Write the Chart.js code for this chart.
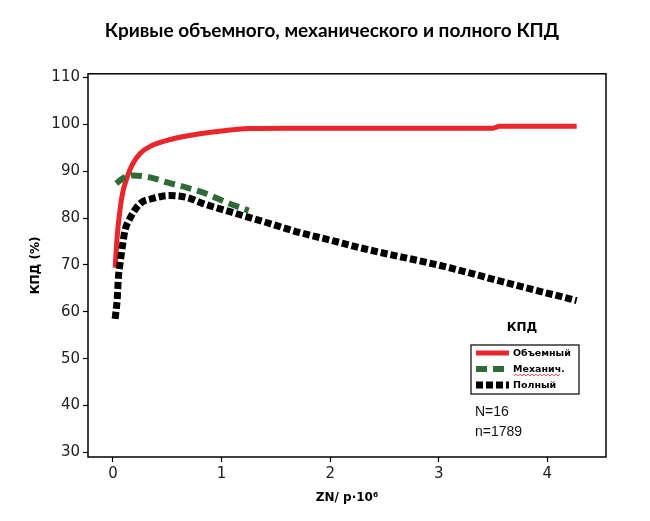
<!DOCTYPE html>
<html>
<head>
<meta charset="utf-8">
<script src="https://cdn.jsdelivr.net/npm/chart.js@4"></script>
<style>
  html, body { margin: 0; padding: 0; background: #fff; }
  #wrap { width: 650px; height: 521px; }
</style>
</head>
<body>
<div id="wrap"><canvas id="mainChart" width="650" height="521"></canvas></div>
<script>
    // значения
    const obX = [0.02, 0.04, 0.064, 0.09, 0.13, 0.18, 0.25, 0.35, 0.5, 0.65, 0.8, 1.0, 1.26, 1.6, 2.5, 3.5, 3.56, 4.27];
    const obY = [69.4, 76.5, 81.6, 85.5, 88.7, 91.5, 93.8, 95.4, 96.6, 97.4, 98.0, 98.6, 99.1, 99.2, 99.2, 99.2, 99.6, 99.6];

    const mechX = [0.03, 0.1, 0.18, 0.34, 0.5, 0.68, 0.86, 1.05, 1.25];
    const mechY = [87.4, 88.6, 89.1, 88.7, 87.6, 86.5, 85.2, 83.3, 81.6];

    const polnX = [0.02, 0.04, 0.05, 0.065, 0.09, 0.11, 0.16, 0.25, 0.37, 0.52, 0.68, 0.83, 1.1, 1.42, 1.72, 2.02, 2.27, 3.1, 3.62, 4.27];
    const polnY = [58.5, 63.0, 67.3, 70.3, 74.5, 77.3, 80.1, 83.1, 84.2, 84.8, 84.4, 83.1, 81.2, 79.0, 76.9, 75.2, 73.7, 69.4, 66.2, 62.4];

    const yTicks = [30, 40, 50, 60, 70, 80, 90, 100, 110];
    const xTicks = [0, 1, 2, 3, 4];

    const seriesNames = ['Объемный', 'Механич.', 'Полный'];
    const notes = ['N=16', 'n=1789'];

    const RED = '#e8262b';
    const GREEN = '#2f6b35';
    const BLACK = '#000';

    function pts(xs, ys) {
        return xs.map((x, i) => ({ x: x, y: ys[i] }));
    }

    // рамка вокруг области графика
    const framePlugin = {
        id: 'frame',
        afterDraw(chart) {
            const a = chart.chartArea;
            const ctx = chart.ctx;
            ctx.save();
            ctx.strokeStyle = '#000';
            ctx.lineWidth = 1.5;
            ctx.strokeRect(a.left, a.top, a.right - a.left, a.bottom - a.top);
            ctx.restore();
        }
    };

    // легенда внутри графика
    const legendPlugin = {
        id: 'boxLegend',
        afterDraw(chart) {
            const ctx = chart.ctx;
            const bx = 471, by = 345, bw = 108, bh = 49;
            ctx.save();
            ctx.fillStyle = '#000';
            ctx.font = 'bold 12px "DejaVu Sans"';
            ctx.textAlign = 'center';
            ctx.textBaseline = 'middle';
            ctx.fillText('КПД', 522, 328);

            ctx.fillStyle = '#fff';
            ctx.fillRect(bx, by, bw, bh);
            ctx.strokeStyle = '#000';
            ctx.lineWidth = 1.2;
            ctx.strokeRect(bx, by, bw, bh);

            const rows = [353, 369, 385];
            chart.data.datasets.forEach((ds, i) => {
                ctx.strokeStyle = ds.borderColor;
                ctx.lineWidth = ds.borderWidth;
                ctx.setLineDash(ds.borderDash || []);
                ctx.lineCap = 'butt';
                ctx.beginPath();
                ctx.moveTo(476, rows[i]);
                ctx.lineTo(509, rows[i]);
                ctx.stroke();
                ctx.setLineDash([]);
                ctx.fillStyle = '#000';
                ctx.font = 'bold 9.5px "DejaVu Sans"';
                ctx.textAlign = 'left';
                ctx.fillText(ds.label, 513, rows[i] + 0.5);
            });
            // красная волнистая линия под "Механич."
            ctx.strokeStyle = '#d33';
            ctx.lineWidth = 0.8;
            ctx.beginPath();
            for (let x = 514; x <= 560; x += 2) {
                const y = rows[1] + 6 + ((x / 2) % 2 ? 1 : -1);
                if (x === 514) ctx.moveTo(x, y); else ctx.lineTo(x, y);
            }
            ctx.stroke();

            ctx.fillStyle = '#111';
            ctx.font = '14px "Liberation Sans"';
            ctx.textAlign = 'left';
            ctx.fillText(notes[0], 475, 412);
            ctx.fillText(notes[1], 475, 432);
            ctx.restore();
        }
    };

    const ctx = document.getElementById('mainChart').getContext('2d');
    const myChart = new Chart(ctx, {
        type: 'scatter',
        data: {
            datasets: [
                { label: seriesNames[0], data: pts(obX, obY), showLine: true, borderColor: RED, backgroundColor: RED,
                  borderWidth: 5, pointRadius: 0, cubicInterpolationMode: 'monotone', order: 3 },
                { label: seriesNames[1], data: pts(mechX, mechY), showLine: true, borderColor: GREEN, backgroundColor: GREEN,
                  borderWidth: 6, borderDash: [11, 6], pointRadius: 0, cubicInterpolationMode: 'monotone', order: 2 },
                { label: seriesNames[2], data: pts(polnX, polnY), showLine: true, borderColor: BLACK, backgroundColor: BLACK,
                  borderWidth: 7, borderDash: [7, 3], pointRadius: 0, cubicInterpolationMode: 'monotone', order: 1 }
            ]
        },
        options: {
            responsive: false,
            animation: false,
            layout: { padding: { left: 14, right: 0, top: 0, bottom: 0 } },
            plugins: {
                legend: { display: false },
                tooltip: { enabled: false },
                title: {
                    display: true,
                    text: 'Кривые объемного, механического и полного КПД',
                    color: '#000',
                    font: { family: 'Lato', weight: 'bold', size: 19 },
                    padding: { top: 19, bottom: 32 }
                }
            },
            scales: {
                x: {
                    type: 'linear',
                    min: -0.23,
                    max: 4.54,
                    afterBuildTicks: axis => { axis.ticks = xTicks.map(v => ({ value: v })); },
                    afterFit: axis => { axis.height = 64; },
                    grid: { drawOnChartArea: false, color: '#000', tickLength: 5, tickWidth: 1.2 },
                    border: { display: false },
                    ticks: { color: '#222', font: { family: 'DejaVu Sans', size: 15 }, padding: 3 },
                    title: {
                        display: true,
                        text: 'ZN/ p·10⁶',
                        color: '#000',
                        font: { family: 'DejaVu Sans', weight: 'bold', size: 12 },
                        padding: { top: 0, bottom: 16 }
                    }
                },
                y: {
                    min: 29,
                    max: 110.8,
                    afterBuildTicks: axis => { axis.ticks = yTicks.map(v => ({ value: v })); },
                    afterFit: axis => { axis.width = 74; },
                    grid: { drawOnChartArea: false, color: '#000', tickLength: 5, tickWidth: 1.2 },
                    border: { display: false },
                    ticks: { color: '#222', font: { family: 'DejaVu Sans', size: 15 }, padding: 3 },
                    title: {
                        display: true,
                        text: 'КПД (%)',
                        color: '#000',
                        font: { family: 'DejaVu Sans', weight: 'bold', size: 12 },
                        padding: { top: 15, bottom: 0 }
                    }
                },
                // пустая ось справа, чтобы оставить поле 44px
                yRight: {
                    position: 'right',
                    afterFit: axis => { axis.width = 44; },
                    grid: { display: false },
                    border: { display: false },
                    ticks: { display: false }
                }
            }
        },
        plugins: [framePlugin, legendPlugin]
    });
</script>
</body>
</html>
